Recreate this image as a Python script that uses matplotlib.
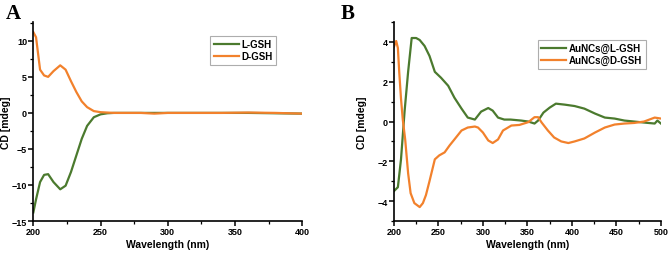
import matplotlib.pyplot as plt
from matplotlib.ticker import MultipleLocator, AutoMinorLocator

plt.rcParams['font.family'] = ['Liberation Sans', 'DejaVu Sans']
plt.rcParams['font.weight'] = 'bold'

# panel A: free GSH
wl_a = [200, 202, 205, 208, 211, 215, 220, 224, 228, 232, 236, 240, 245, 250, 255, 260,
        280, 300, 320, 340, 360, 380, 400]
l_gsh = [-13.8, -12.0, -9.6, -8.6, -8.5, -9.6, -10.6, -10.1, -8.2, -5.9, -3.6, -1.8, -0.6,
         -0.2, -0.05, 0.0, 0.0, 0.0, 0.0, 0.0, 0.0, -0.05, -0.1]
wl_d = [200, 202, 205, 208, 211, 215, 220, 224, 228, 232, 236, 240, 245, 250, 255, 260,
        280, 290, 300, 320, 340, 360, 380, 400]
d_gsh = [11.2, 10.5, 6.0, 5.2, 5.0, 5.8, 6.6, 6.0, 4.4, 2.9, 1.6, 0.8, 0.25, 0.1, 0.05, 0.0,
         0.0, -0.1, 0.0, 0.0, 0.0, 0.05, 0.0, -0.1]

# panel B: AuNCs
wl_bl = [200, 204.5, 208, 212, 216, 220, 225, 229, 234.5, 240, 246, 253, 261, 268, 276, 283,
         291, 298, 306, 311, 317, 324, 331, 343, 351, 358, 362, 368, 375, 382, 392, 403, 414,
         426, 437, 448, 459, 470, 481, 493, 496, 500]
au_l = [-3.5, -3.3, -1.9, 0.5, 2.5, 4.2, 4.2, 4.1, 3.8, 3.3, 2.5, 2.2, 1.8, 1.2, 0.65, 0.2,
        0.1, 0.5, 0.68, 0.55, 0.2, 0.1, 0.1, 0.05, 0.0, -0.1, 0.05, 0.45, 0.7, 0.9, 0.85, 0.78,
        0.65, 0.4, 0.2, 0.15, 0.05, 0.0, -0.05, -0.1, 0.05, -0.1]
wl_bd = [200, 202.6, 204.5, 206, 208, 210, 212.7, 216, 218.8, 223, 229, 232.6, 236, 240, 246,
         251, 257, 262.6, 268, 276, 283, 291, 294.5, 300, 306, 311, 317, 322.6, 332, 341, 351,
         358, 362, 366, 373, 380, 388, 396, 403, 414, 426, 437, 448, 459, 470, 481, 493, 500]
au_d = [3.75, 4.05, 3.7, 2.5, 1.15, 0.1, -0.9, -2.6, -3.6, -4.1, -4.3, -4.1, -3.7, -3.0, -1.9,
        -1.7, -1.55, -1.2, -0.9, -0.45, -0.3, -0.25, -0.3, -0.55, -0.95, -1.08, -0.9, -0.45,
        -0.2, -0.17, -0.03, 0.22, 0.22, -0.05, -0.45, -0.8, -1.0, -1.08, -1.0, -0.85, -0.55,
        -0.3, -0.15, -0.1, -0.07, 0.0, 0.2, 0.15]

green = '#4b7a2e'
orange = '#f2812c'

fig = plt.figure(figsize=(6.71, 2.55), dpi=100)
axA = fig.add_axes([0.0497, 0.1294, 0.4006, 0.78])
axB = fig.add_axes([0.587, 0.1294, 0.398, 0.78])


def style(ax, ylab_x):
    for s in ['top', 'right']:
        ax.spines[s].set_visible(False)
    for s in ['left', 'bottom']:
        ax.spines[s].set_linewidth(1.2)
    ax.xaxis.set_minor_locator(AutoMinorLocator(2))
    ax.yaxis.set_minor_locator(AutoMinorLocator(2))
    ax.tick_params(which='major', length=3.5, width=1.1, labelsize=6.5, pad=1)
    ax.tick_params(which='minor', length=2, width=0.9)
    for lab in ax.get_xticklabels() + ax.get_yticklabels():
        lab.set_fontweight('bold')
    ax.set_xlabel('Wavelength (nm)', fontsize=7.5, fontweight='bold', labelpad=2)
    ax.set_ylabel('CD [mdeg]', fontsize=7.5, fontweight='bold')
    ax.yaxis.set_label_coords(ylab_x, 0.5)


axA.plot(wl_a, l_gsh, color=green, lw=1.6, label='L-GSH')
axA.plot(wl_d, d_gsh, color=orange, lw=1.6, label='D-GSH')
axA.set_xlim(200, 400)
axA.set_ylim(-15, 12.6)
axA.xaxis.set_major_locator(MultipleLocator(50))
axA.yaxis.set_major_locator(MultipleLocator(5))
style(axA, -0.085)
legA = axA.legend(loc='upper left', bbox_to_anchor=(0.64, 0.955), frameon=True,
                  fancybox=False, edgecolor='#999999', handlelength=2.6, borderpad=0.35,
                  labelspacing=0.2, handletextpad=0.3, prop={'weight': 'bold', 'size': 7})
legA.get_frame().set_linewidth(0.8)

axB.plot(wl_bl, au_l, color=green, lw=1.6, label='AuNCs@L-GSH')
axB.plot(wl_bd, au_d, color=orange, lw=1.6, label='AuNCs@D-GSH')
axB.set_xlim(200, 500)
axB.set_ylim(-5, 5)
axB.xaxis.set_major_locator(MultipleLocator(50))
axB.set_yticks([-4, -2, 0, 2, 4])
style(axB, -0.1)
legB = axB.legend(loc='upper left', bbox_to_anchor=(0.52, 0.935), frameon=True,
                  fancybox=False, edgecolor='#999999', handlelength=2.6, borderpad=0.35,
                  labelspacing=0.2, handletextpad=0.3, prop={'weight': 'bold', 'size': 7})
legB.get_frame().set_linewidth(0.8)

fig.text(0.008, 0.985, 'A', fontsize=15, fontweight='bold', family='Liberation Serif', va='top')
fig.text(0.508, 0.985, 'B', fontsize=15, fontweight='bold', family='Liberation Serif', va='top')

fig.savefig('out.png', dpi=100)
